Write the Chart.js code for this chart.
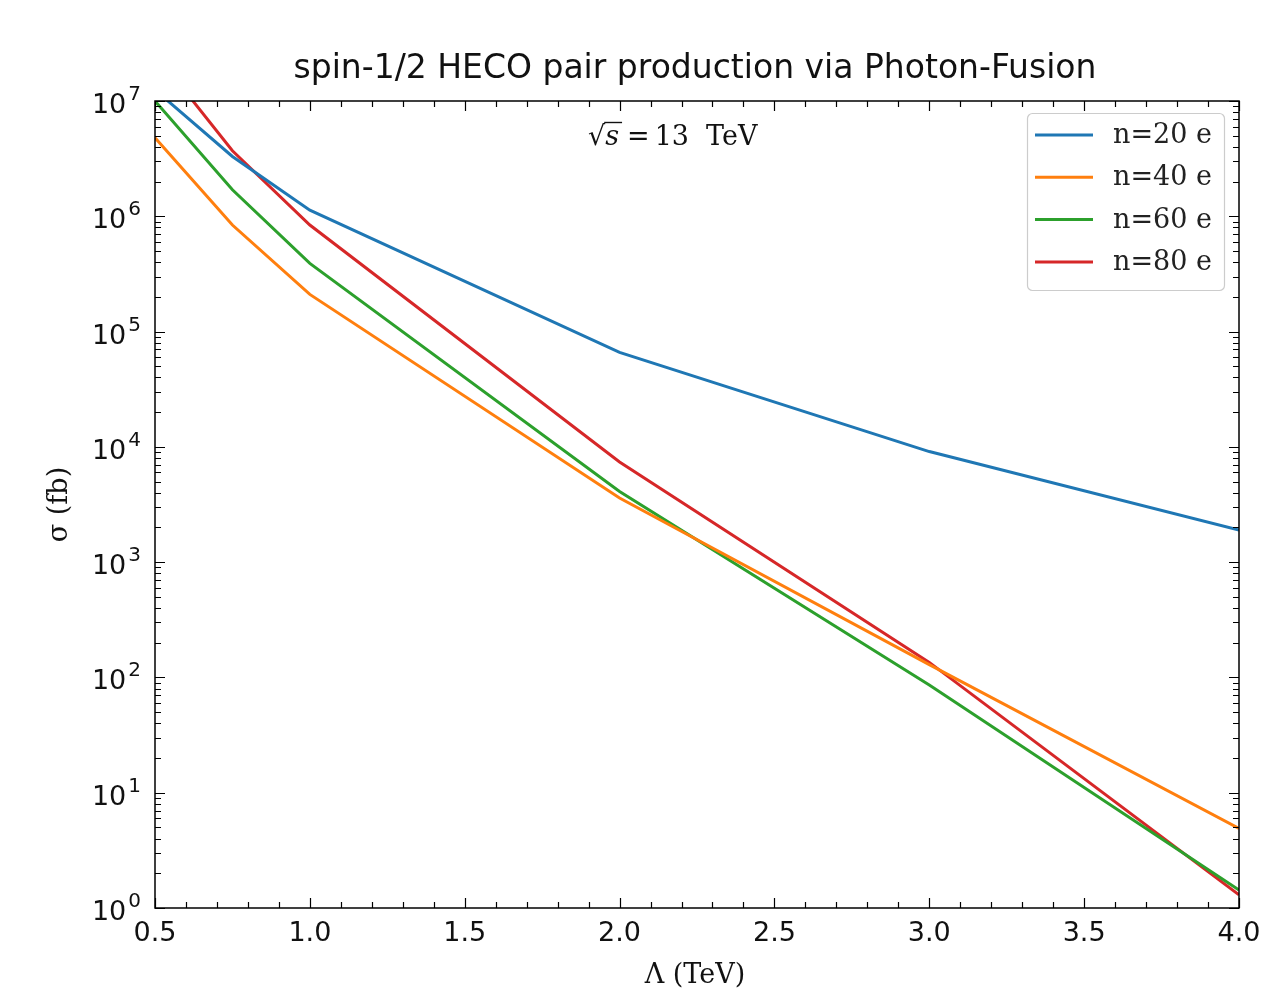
<!DOCTYPE html>
<html><head><meta charset="utf-8">
<script src="https://cdn.jsdelivr.net/npm/chart.js@4"></script>
<style>html,body{margin:0;padding:0;background:#fff}#wrap{width:1261px;height:991px;position:relative}</style>
</head><body><div id="wrap"><canvas id="c" width="1261" height="991"></canvas></div>
<script>
// ---- data ----
const lambdaTeV = [0.5, 0.75, 1.0, 2.0, 3.0, 4.0];
const sigmaN20 = [1.25e7, 3.3e6, 1.13e6, 6.6e4, 9.1e3, 1.9e3];
const sigmaN40 = [4.8e6, 8.4e5, 2.1e5, 3.6e3, 129, 4.9];
const sigmaN60 = [1.0e7, 1.7e6, 3.9e5, 4.1e3, 86, 1.43];
const sigmaN80 = [2.6e7, 3.7e6, 8.4e5, 7.4e3, 135, 1.3];
const seriesLabels = ['n=20 e', 'n=40 e', 'n=60 e', 'n=80 e'];
const seriesColors = ['#1f77b4', '#ff7f0e', '#2ca02c', '#d62728'];
const xTickValues = [0.5, 1.0, 1.5, 2.0, 2.5, 3.0, 3.5, 4.0];
const xTickLabels = ['0.5', '1.0', '1.5', '2.0', '2.5', '3.0', '3.5', '4.0'];
const yTickExponents = [0, 1, 2, 3, 4, 5, 6, 7];
const titleText = 'spin-1/2 HECO pair production via Photon-Fusion';
const xLabelText = 'Λ (TeV)';
const yLabelText = 'σ (fb)';

const allSeries = [sigmaN20, sigmaN40, sigmaN60, sigmaN80];
const datasets = allSeries.map((vals, i) => ({
  label: seriesLabels[i],
  data: lambdaTeV.map((x, j) => ({x: x, y: vals[j]})),
  borderColor: seriesColors[i],
  backgroundColor: seriesColors[i],
  borderWidth: 3,
  pointRadius: 0,
  tension: 0,
  fill: false,
  clip: 0
}));

const SANS = '"DejaVu Sans", sans-serif';
const SERIF = '"DejaVu Serif", serif';

const decor = {
  id: 'decor',
  afterDraw(chart) {
    const ctx = chart.ctx;
    const a = chart.chartArea;
    const xs = chart.scales.x, ys = chart.scales.y;
    ctx.save();
    // frame
    ctx.strokeStyle = '#000';
    ctx.lineWidth = 1.5;
    ctx.strokeRect(a.left, a.top, a.right - a.left, a.bottom - a.top);
    // ticks
    ctx.lineWidth = 1.2;
    const MAJ = 10, MIN = 6;
    ctx.beginPath();
    for (let k = 5; k <= 40; k++) {
      const v = k / 10;
      const px = Math.round(xs.getPixelForValue(v)) + 0.5;
      const len = (k % 5 === 0) ? MAJ : MIN;
      ctx.moveTo(px, a.bottom); ctx.lineTo(px, a.bottom - len);
      ctx.moveTo(px, a.top); ctx.lineTo(px, a.top + len);
    }
    for (let d = 0; d <= 7; d++) {
      for (let m = 1; m <= 9; m++) {
        if (d === 7 && m > 1) break;
        const v = m * Math.pow(10, d);
        const py = Math.round(ys.getPixelForValue(v)) + 0.5;
        const len = (m === 1) ? MAJ : MIN;
        ctx.moveTo(a.left, py); ctx.lineTo(a.left + len, py);
        ctx.moveTo(a.right, py); ctx.lineTo(a.right - len, py);
      }
    }
    ctx.stroke();

    ctx.fillStyle = '#111';
    // x tick labels
    ctx.font = '27px ' + SANS;
    ctx.textAlign = 'center';
    ctx.textBaseline = 'alphabetic';
    xTickValues.forEach((v, i) => {
      ctx.fillText(xTickLabels[i], xs.getPixelForValue(v), 941);
    });
    // y tick labels 10^n
    yTickExponents.forEach(e => {
      const py = ys.getPixelForValue(Math.pow(10, e));
      ctx.font = '20px ' + SANS;
      const ew = ctx.measureText(String(e)).width;
      ctx.font = '27px ' + SANS;
      const bw = ctx.measureText('10').width;
      const right = 141;
      ctx.textAlign = 'left';
      ctx.fillText('10', right - ew - bw - 2, py + 12);
      ctx.font = '20px ' + SANS;
      ctx.fillText(String(e), right - ew, py - 1);
    });
    // title
    ctx.font = '33px ' + SANS;
    ctx.textAlign = 'center';
    ctx.fillText(titleText, (a.left + a.right) / 2 - 2, 78);
    // x label
    ctx.font = '27px ' + SERIF;
    ctx.fillText(xLabelText, (a.left + a.right) / 2 - 2, 983);
    // y label
    ctx.save();
    ctx.translate(67, (a.top + a.bottom) / 2);
    ctx.rotate(-Math.PI / 2);
    ctx.fillText(yLabelText, 0, 0);
    ctx.restore();

    // annotation sqrt(s) = 13 TeV
    ctx.textAlign = 'left';
    const bx = 588, by = 145;
    ctx.font = '27px ' + SERIF;
    ctx.fillText('√', bx, by);
    const rw = ctx.measureText('√').width;
    ctx.font = 'italic 27px ' + SERIF;
    const sx = bx + rw;
    ctx.fillText('s', sx, by);
    const sw = ctx.measureText('s').width;
    ctx.lineWidth = 1.4;
    ctx.strokeStyle = '#111';
    ctx.beginPath();
    ctx.moveTo(bx + rw - 1, by - 22.5);
    ctx.lineTo(sx + sw + 3, by - 22.5);
    ctx.stroke();
    ctx.font = '27px ' + SERIF;
    const eqx = sx + sw + 8;
    ctx.fillText('=', eqx, by);
    const eqw = ctx.measureText('=').width;
    ctx.fillText('13', eqx + eqw + 5, by);
    const nw = ctx.measureText('13').width;
    ctx.fillText('TeV', eqx + eqw + 5 + nw + 17, by);

    // legend
    const lx = 1027, ly = 113, lw = 197, lh = 177;
    ctx.beginPath();
    if (ctx.roundRect) ctx.roundRect(lx + 0.5, ly + 0.5, lw, lh, 5); else ctx.rect(lx + 0.5, ly + 0.5, lw, lh);
    ctx.fillStyle = 'rgba(255,255,255,0.8)';
    ctx.fill();
    ctx.strokeStyle = '#cccccc';
    ctx.lineWidth = 1.2;
    ctx.stroke();
    chart.data.datasets.forEach((ds, i) => {
      const yy = 135 + i * 42.3;
      ctx.strokeStyle = ds.borderColor;
      ctx.lineWidth = 3;
      ctx.beginPath();
      ctx.moveTo(1035, yy); ctx.lineTo(1093, yy);
      ctx.stroke();
      ctx.fillStyle = '#222';
      ctx.font = '27px ' + SERIF;
      ctx.textBaseline = 'middle';
      ctx.fillText(ds.label, 1113, yy + 1);
      ctx.textBaseline = 'alphabetic';
    });
    ctx.restore();
  }
};

new Chart(document.getElementById('c'), {
  type: 'line',
  data: { datasets: datasets },
  options: {
    responsive: false,
    animation: false,
    devicePixelRatio: 1,
    layout: { padding: { left: 155, right: 22, top: 101, bottom: 83 } },
    plugins: { legend: { display: false }, tooltip: { enabled: false }, title: { display: false } },
    scales: {
      x: { type: 'linear', min: 0.5, max: 4.0, display: false },
      y: { type: 'logarithmic', min: 1, max: 1e7, display: false }
    }
  },
  plugins: [decor]
});
</script>
</body></html>
